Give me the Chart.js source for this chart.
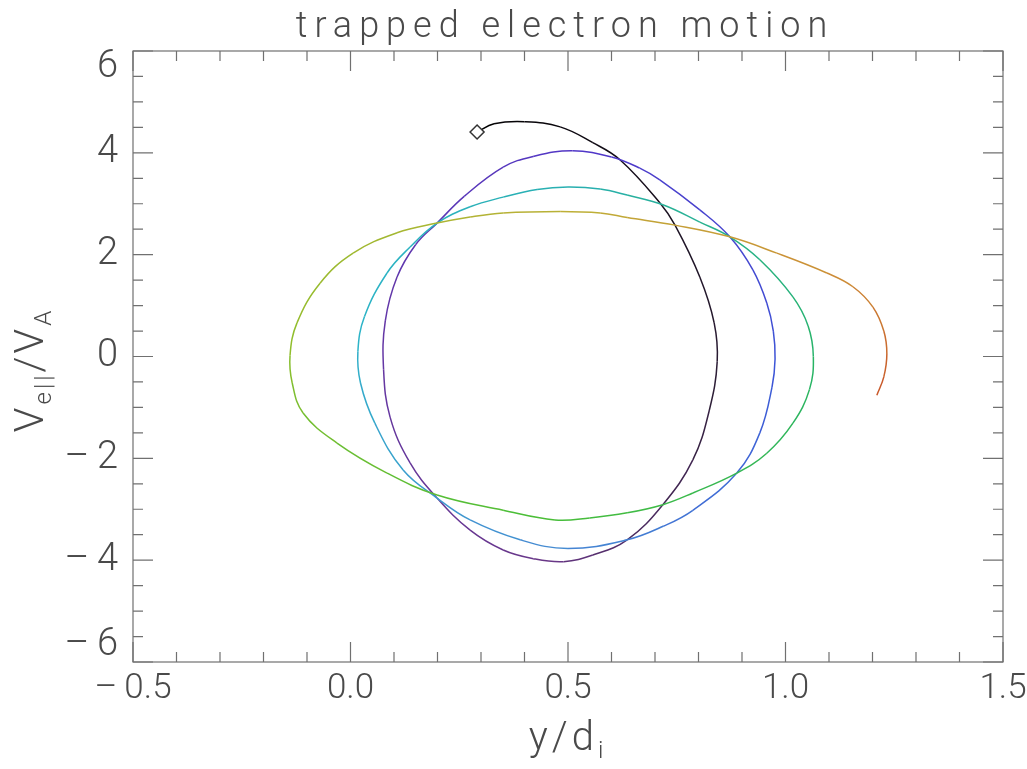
<!DOCTYPE html>
<html>
<head>
<meta charset="utf-8">
<script src="https://cdn.jsdelivr.net/npm/chart.js@4.4.0/dist/chart.umd.min.js"></script>
<style>
  html, body { margin: 0; padding: 0; background: #ffffff; }
  #wrap { width: 1027px; height: 769px; }
</style>
</head>
<body>
<div id="wrap"><canvas id="orbitChart"></canvas></div>
<script>
// electron position y/d_i along the orbit (in time order)
const posY = [
  0.291, 0.330, 0.400, 0.482, 0.557, 0.620, 0.711, 0.746, 0.803, 0.836, 0.843, 0.825, 0.787, 0.718, 0.636, 0.557,
  0.490, 0.420, 0.351, 0.275, 0.199, 0.137, 0.091, 0.076, 0.080, 0.107, 0.150, 0.199, 0.262, 0.351, 0.420, 0.510,
  0.600, 0.665, 0.711, 0.803, 0.872, 0.925, 0.957, 0.972, 0.976, 0.969, 0.941, 0.888, 0.787, 0.720, 0.636, 0.500,
  0.390, 0.275, 0.199, 0.121, 0.056, 0.023, 0.017, 0.032, 0.084, 0.137, 0.199, 0.275, 0.351, 0.429, 0.500, 0.574,
  0.636, 0.718, 0.803, 0.872, 0.941, 1.017, 1.052, 1.064, 1.055, 1.017, 0.957, 0.888, 0.787, 0.718, 0.636, 0.550,
  0.470, 0.351, 0.199, 0.084, -0.031, -0.109, -0.134, -0.139, -0.123, -0.070, 0.006, 0.107, 0.199, 0.275, 0.351, 0.482,
  0.574, 0.636, 0.746, 0.872, 0.980, 1.095, 1.155, 1.201, 1.226, 1.233, 1.226, 1.210
];
// parallel velocity V_e||/V_A at the same instants
const velPar = [
  4.41, 4.57, 4.61, 4.51, 4.20, 3.86, 3.02, 2.58, 1.56, 0.66, -0.10, -1.05, -2.03, -2.91, -3.60, -3.90,
  -4.03, -3.97, -3.80, -3.41, -2.78, -2.09, -1.19, -0.25, 0.70, 1.56, 2.20, 2.62, 3.15, 3.72, 3.93, 4.04,
  3.92, 3.70, 3.47, 2.88, 2.35, 1.70, 1.05, 0.50, -0.05, -0.60, -1.50, -2.29, -3.02, -3.33, -3.60, -3.77,
  -3.60, -3.21, -2.78, -2.23, -1.31, -0.52, 0.10, 0.78, 1.64, 2.15, 2.62, 2.94, 3.13, 3.28, 3.33, 3.29,
  3.17, 2.98, 2.64, 2.35, 1.90, 1.17, 0.60, 0.00, -0.65, -1.31, -1.90, -2.29, -2.68, -2.91, -3.07, -3.17,
  -3.21, -3.02, -2.72, -2.29, -1.70, -1.11, -0.52, 0.02, 0.66, 1.44, 2.03, 2.43, 2.62, 2.74, 2.82, 2.85,
  2.82, 2.73, 2.58, 2.35, 2.03, 1.64, 1.37, 0.97, 0.50, 0.05, -0.40, -0.76
];

const xTicks = [-0.5, 0.0, 0.5, 1.0, 1.5];
const yTicks = [-6, -4, -2, 0, 2, 4, 6];
const titleText = 'trapped electron motion';

// colour along the orbit, keyed by point index:
// black -> purple -> blue -> cyan -> green -> yellow -> orange
const colorStops = [
  [0, [0, 0, 0]], [10, [45, 30, 55]], [16, [105, 55, 135]], [23, [100, 55, 165]],
  [31, [80, 55, 200]], [40, [60, 85, 215]], [47, [70, 140, 210]], [54, [45, 180, 200]],
  [62, [40, 175, 175]], [71, [40, 180, 100]], [80, [75, 190, 55]], [87, [145, 190, 45]],
  [95, [190, 175, 55]], [101, [205, 140, 55]], [107, [200, 80, 40]]
];

function orbitColor(i) {
  for (let k = 1; k < colorStops.length; k++) {
    const [i1, c1] = colorStops[k];
    const [i0, c0] = colorStops[k - 1];
    if (i <= i1) {
      const f = (i - i0) / (i1 - i0);
      const c = c0.map((v, n) => Math.round(v + (c1[n] - v) * f));
      return `rgb(${c[0]},${c[1]},${c[2]})`;
    }
  }
  return 'rgb(200,80,40)';
}

const points = posY.map((x, i) => ({ x: x, y: velPar[i] }));
const inkColor = '#4a4a4a';
const fontFamily = 'Roboto, "DejaVu Sans", sans-serif';

// title, frame, inward ticks and axis titles with subscripts
const idlFrame = {
  id: 'idlFrame',
  afterDraw(chart) {
    const ctx = chart.ctx;
    const a = chart.chartArea;
    const xs = chart.scales.x;
    const ys = chart.scales.y;
    ctx.save();
    ctx.strokeStyle = '#707070';
    ctx.lineWidth = 1.2;
    ctx.strokeRect(a.left, a.top, a.right - a.left, a.bottom - a.top);

    ctx.beginPath();
    for (let v = -0.5; v <= 1.5001; v += 0.1) {
      const px = xs.getPixelForValue(v);
      const major = Math.abs(v * 2 - Math.round(v * 2)) < 1e-6;
      const len = major ? 20 : 10;
      ctx.moveTo(px, a.bottom); ctx.lineTo(px, a.bottom - len);
      ctx.moveTo(px, a.top); ctx.lineTo(px, a.top + len);
    }
    for (let v = -6; v <= 6.001; v += 0.5) {
      const py = ys.getPixelForValue(v);
      const major = Math.abs(v / 2 - Math.round(v / 2)) < 1e-6;
      const len = major ? 20 : 10;
      ctx.moveTo(a.left, py); ctx.lineTo(a.left + len, py);
      ctx.moveTo(a.right, py); ctx.lineTo(a.right - len, py);
    }
    ctx.stroke();

    // title
    ctx.fillStyle = inkColor;
    ctx.font = `300 36px ${fontFamily}`;
    ctx.letterSpacing = '7px';
    ctx.textAlign = 'center';
    ctx.textBaseline = 'alphabetic';
    ctx.fillText(titleText, 565, 37);

    // x axis title: y/d_i
    drawParts(ctx, [['y/d', 40, 0], ['i', 24, 8]], (a.left + a.right) / 2, 750, 4);

    // y axis title: V_e||/V_A, rotated
    ctx.translate(43, 370);
    ctx.rotate(-Math.PI / 2);
    drawParts(ctx, [['V', 40, 0], ['e||', 24, 8], ['/V', 40, 0], ['A', 24, 8]], 0, 0, 3);
    ctx.restore();
  }
};

function drawParts(ctx, parts, cx, baseY, spacing) {
  ctx.letterSpacing = spacing + 'px';
  let total = 0;
  parts.forEach(p => {
    ctx.font = `300 ${p[1]}px ${fontFamily}`;
    total += ctx.measureText(p[0]).width;
  });
  let x = cx - total / 2;
  ctx.textAlign = 'left';
  ctx.textBaseline = 'alphabetic';
  ctx.fillStyle = inkColor;
  parts.forEach(p => {
    ctx.font = `300 ${p[1]}px ${fontFamily}`;
    ctx.fillText(p[0], x, baseY + p[2]);
    x += ctx.measureText(p[0]).width;
  });
  ctx.letterSpacing = '0px';
}

function fmtNum(v, digits) {
  const s = Math.abs(v).toFixed(digits);
  return v < 0 ? '\u2013\u2009' + s : s;
}

new Chart(document.getElementById('orbitChart').getContext('2d'), {
  type: 'scatter',
  data: {
    datasets: [{
      label: 'orbit',
      data: points,
      showLine: true,
      fill: false,
      borderWidth: 1.5,
      tension: 0.4,
      borderColor: '#000',
      segment: {
        borderColor: c => orbitColor(c.p0DataIndex)
      },
      pointStyle: 'rectRot',
      pointRadius: c => (c.dataIndex === 0 ? 7 : 0),
      pointHoverRadius: 0,
      pointBackgroundColor: '#ffffff',
      pointBorderColor: '#333333',
      pointBorderWidth: 1.5
    }]
  },
  options: {
    responsive: true,
    maintainAspectRatio: false,
    animation: false,
    layout: { padding: { left: 0, right: 24, top: 51, bottom: 0 } },
    plugins: {
      legend: { display: false },
      title: { display: false },
      tooltip: { enabled: false }
    },
    scales: {
      x: {
        type: 'linear',
        min: -0.5,
        max: 1.5,
        afterBuildTicks: s => { s.ticks = xTicks.map(v => ({ value: v })); },
        afterFit: s => { s.height = 107; s.paddingLeft = 0; s.paddingRight = 0; },
        grid: { display: false, drawTicks: false },
        border: { display: false },
        ticks: {
          padding: 6,
          color: inkColor,
          font: { family: fontFamily, size: 35, weight: 300 },
          maxRotation: 0,
          callback: v => fmtNum(v, 1)
        }
      },
      y: {
        type: 'linear',
        min: -6,
        max: 6,
        afterBuildTicks: s => { s.ticks = yTicks.map(v => ({ value: v })); },
        afterFit: s => { s.width = 133; s.paddingTop = 0; s.paddingBottom = 0; },
        grid: { display: false, drawTicks: false },
        border: { display: false },
        ticks: {
          padding: 15,
          color: inkColor,
          font: { family: fontFamily, size: 38, weight: 300, lineHeight: 0.85 },
          callback: v => {
            // end labels sit inside the frame as in the original
            if (v === 6) return ['', fmtNum(v, 0)];
            if (v === -6) return [fmtNum(v, 0), ''];
            return fmtNum(v, 0);
          }
        }
      }
    }
  },
  plugins: [idlFrame]
});
</script>
</body>
</html>
